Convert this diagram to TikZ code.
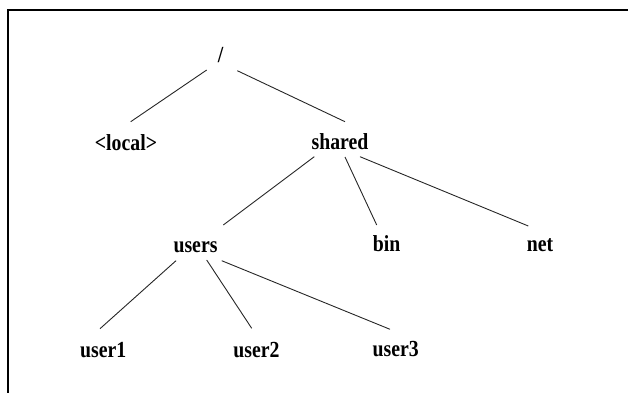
\documentclass[tikz,border=0pt]{standalone}
\usepackage{fontspec}
\setmainfont{Liberation Serif}[FakeStretch=0.86]
\begin{document}
\begin{tikzpicture}[x=1pt, y=-1pt,
  dirname/.style={anchor=base, inner sep=0pt, font=\fontsize{23}{26}\selectfont\bfseries},
  branch/.style={draw=black!85, line width=0.9pt},
  frameline/.style={draw=black, line width=2pt}]
  \useasboundingbox (0,0) rectangle (628,393);
  % frame: top and left edges only
  \draw[frameline] (628,10.3) -- (7.7,10.3) -- (7.7,393);

  % directory names
  \node[dirname] (root)   at (220.5,62.5) {/};
  \node[dirname] (local)  at (126,150)    {<local>};
  \node[dirname] (shared) at (340,149.3)  {shared};
  \node[dirname] (users)  at (195.5,252.7){users};
  \node[dirname] (bin)    at (386.7,251.7){bin};
  \node[dirname] (net)    at (540,251.7)  {net};
  \node[dirname] (user1)  at (103.3,357.3){user1};
  \node[dirname] (user2)  at (256.5,357)  {user2};
  \node[dirname] (user3)  at (395.8,356.7){user3};

  % tree branches
  \draw[branch] ([shift={(-13.8,7.5)}]root.base)   -- ([shift={(4.7,-28.3)}]local.base);
  \draw[branch] ([shift={(16.8,8.2)}]root.base)    -- ([shift={(5,-27.6)}]shared.base);
  \draw[branch] ([shift={(-25.7,7.4)}]shared.base) -- ([shift={(27.8,-27.7)}]users.base);
  \draw[branch] ([shift={(5,7.7)}]shared.base)     -- ([shift={(-10,-26.7)}]bin.base);
  \draw[branch] ([shift={(20,7.4)}]shared.base)    -- ([shift={(-11.7,-25.7)}]net.base);
  \draw[branch] ([shift={(-19.5,8)}]users.base)    -- ([shift={(-3.3,-28.6)}]user1.base);
  \draw[branch] ([shift={(11.2,7.3)}]users.base)   -- ([shift={(-4.8,-28.7)}]user2.base);
  \draw[branch] ([shift={(26.2,8)}]users.base)     -- ([shift={(-5.8,-27.4)}]user3.base);
\end{tikzpicture}
\end{document}
